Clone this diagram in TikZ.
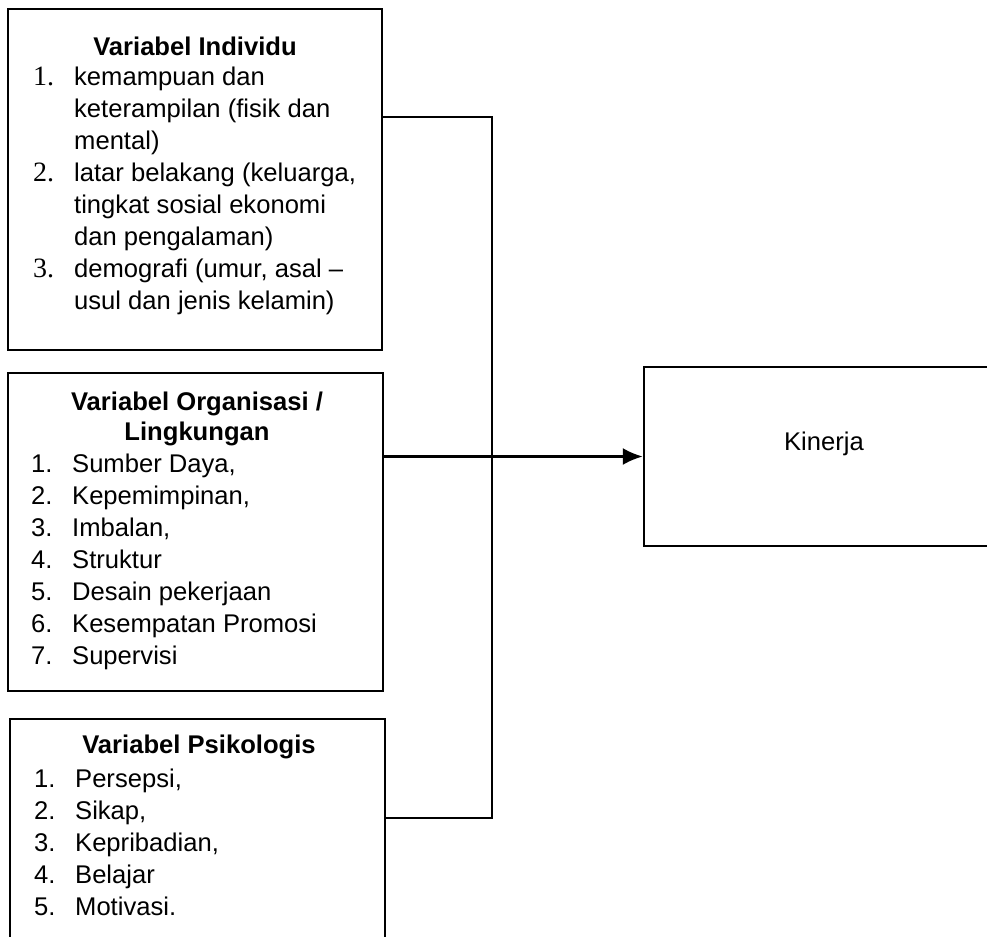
\documentclass[tikz,border=0pt]{standalone}
\usepackage{fontspec}
\setmainfont{Liberation Sans}
\newfontfamily\numfont{Liberation Serif}
\usetikzlibrary{fit,arrows.meta}

\newcommand{\nr}[1]{\makebox[20.5pt][l]{#1}}

\begin{document}
\begin{tikzpicture}[x=0.5pt,y=-0.5pt,line width=1.2pt,
	  box node/.style={rectangle,draw,inner sep=0pt},
	  head node/.style={font=\fontsize{12.8}{15}\selectfont\bfseries,align=center,anchor=base,inner sep=0pt},
	  list node/.style={font=\fontsize{12.8}{16}\selectfont,align=left,anchor=base west,inner sep=0pt}]

	  \useasboundingbox (0,0) rectangle (987,937);
	  \clip (0,0) rectangle (987,937);

	  % boxes
	  \node[box node,fit={(8,9) (382,350)}] (ind) {};
	  \node[box node,fit={(8,373) (383,691)}] (org) {};
	  \node[box node,fit={(10,719) (385,960)}] (psi) {};
	  \node[box node,fit={(644,367) (1004,546)}] (kin) {};

	  % texts, placed at the baseline of their last line
	  \node[head node] (indh) at (195,55) {Variabel Individu};
	  \node[list node] (indl) at (32,309) {\nr{\numfont\fontsize{14}{16}\selectfont 1.}kemampuan dan\\
	    \nr{}keterampilan (fisik dan\\
	    \nr{}mental)\\
	    \nr{\numfont\fontsize{14}{16}\selectfont 2.}latar belakang (keluarga,\\
	    \nr{}tingkat sosial ekonomi\\
	    \nr{}dan pengalaman)\\
	    \nr{\numfont\fontsize{14}{16}\selectfont 3.}demografi (umur, asal –\\
	    \nr{}usul dan jenis kelamin)};

	  \node[head node] (orgh) at (197,440) {Variabel Organisasi /\\Lingkungan};
	  \node[list node] (orgl) at (30,664) {\nr{1.}Sumber Daya,\\
	    \nr{2.}Kepemimpinan,\\
	    \nr{3.}Imbalan,\\
	    \nr{4.}Struktur\\
	    \nr{5.}Desain pekerjaan\\
	    \nr{6.}Kesempatan Promosi\\
	    \nr{7.}Supervisi};

	  \node[head node] (psih) at (199,753) {Variabel Psikologis};
	  \node[list node] (psil) at (33,915) {\nr{1.}Persepsi,\\
	    \nr{2.}Sikap,\\
	    \nr{3.}Kepribadian,\\
	    \nr{4.}Belajar\\
	    \nr{5.}Motivasi.};

	  \node[head node,font=\fontsize{12.8}{15}\selectfont] (kint) at (824,450) {Kinerja};

	  % connectors
	  \coordinate (t) at (492,117);
	  \coordinate (b) at (492,818);
	  \draw (ind.east |- t) -- (t) -- (b) -- (psi.east |- b);
	  \draw[-{Latex[length=10pt,width=8.5pt]}] (org.east |- kin.west) -- (kin.west);
	 % \draw (t) -- (kin.west);

\end{tikzpicture}
\end{document}
